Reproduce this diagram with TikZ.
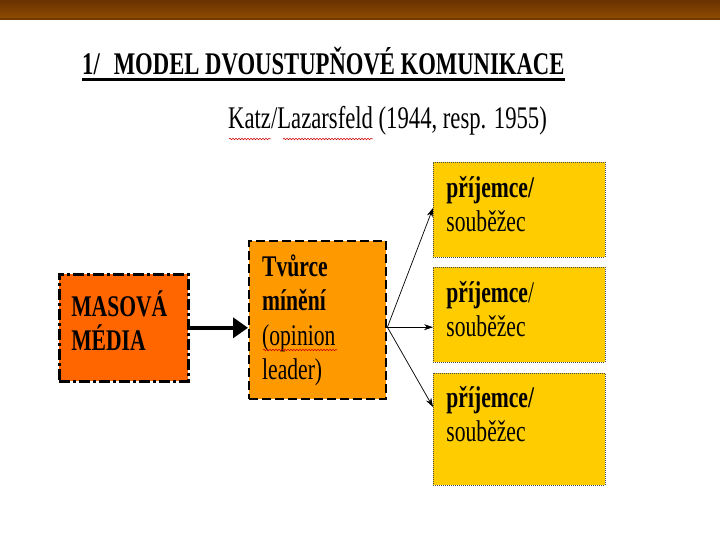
\documentclass[tikz,border=0pt]{standalone}
\usepackage{fontspec}
\setmainfont[FakeStretch=0.72]{Liberation Serif}
\usetikzlibrary{arrows.meta,decorations.pathmorphing}
\definecolor{barTop}{HTML}{693200}
\definecolor{barBot}{HTML}{8E4A00}
\definecolor{mediaC}{HTML}{FF6600}
\definecolor{leaderC}{HTML}{FF9900}
\definecolor{recvC}{HTML}{FFCC00}
\begin{document}
\begin{tikzpicture}[x=1pt,y=-1pt,
  txt/.style={font=\fontsize{31.5}{35}\selectfont, inner sep=0pt},
  boxbase/.style={anchor=north west, align=left, font=\fontsize{30}{34.5}\selectfont, inner ysep=0pt},
  mediabox/.style={boxbase, draw=black, fill=mediaC, line width=2.6pt,
     dash pattern=on 11pt off 3pt on 3pt off 3pt,
     inner xsep=12pt, text width=105pt, minimum width=129pt,
     text height=42pt, text depth=65pt},
  leaderbox/.style={boxbase, draw=black, fill=leaderC, line width=2.4pt,
     dash pattern=on 9pt off 4pt,
     inner xsep=13pt, text width=111pt, minimum width=137pt,
     text height=35pt, text depth=123pt},
  recvbox/.style={boxbase, draw=black!70, fill=recvC, line width=0.9pt,
     dash pattern=on 1pt off 1pt,
     inner xsep=13pt, text width=146pt, minimum width=172pt, text height=35pt},
  thinarrow/.style={draw=black, line width=0.7pt, -{Stealth[length=9pt,width=6pt]}},
  spell/.style={draw=red!80!black, line width=0.5pt, decorate,
     decoration={snake, amplitude=0.8pt, segment length=3pt}}
]
\useasboundingbox (0,0) rectangle (720,540);
\fill[white] (0,0) rectangle (720,540);
% top bar
\shade[top color=barTop, bottom color=barBot] (0,0) rectangle (720,18);
\fill[barBot!80!black] (0,18) rectangle (720,20);

% title
\node[txt, anchor=base west] (title) at (82,75) {\textbf{1/\hspace{14pt}MODEL DVOUSTUPŇOVÉ KOMUNIKACE}};
\draw[line width=3pt] ([yshift=-4.5pt]title.base west) -- ([yshift=-4.5pt]title.base east);

% subtitle
\node[txt, anchor=base west] (sub) at (228,129) {Katz/Lazarsfeld (1944, resp. 1955)};
\draw[spell] (229,139) -- (271,139);
\draw[spell] (283,139) -- (373,139);

% boxes
\node[mediabox] (media) at (58,273) {\textbf{MASOVÁ}\\\textbf{MÉDIA}};
\node[leaderbox] (leader) at (248,240) {\textbf{Tvůrce}\\\textbf{mínění}\\(opinion\\leader)};
\draw[spell] (263,350) -- (337,350);

\node[recvbox, text depth=60pt] (r1) at (433,162) {\textbf{příjemce/}\\souběžec};
\node[recvbox, text depth=60pt] (r2) at (433,267) {\textbf{příjemce}/\\souběžec};
\node[recvbox, text height=34pt, text depth=78pt] (r3) at (433,373) {\textbf{příjemce/}\\souběžec};

% connectors
\draw[line width=4.5pt, -{Triangle[length=15pt,width=20pt]}]
  (media.east) -- (media.east -| leader.west);
\coordinate (fan) at ([yshift=-7pt]leader.east);
\draw[thinarrow] (fan) -- ([yshift=2pt]r1.west);
\draw[thinarrow] (fan) -- (r2.west |- fan);
\draw[thinarrow] (fan) -- ([yshift=-34pt]r3.north west);
\end{tikzpicture}
\end{document}
